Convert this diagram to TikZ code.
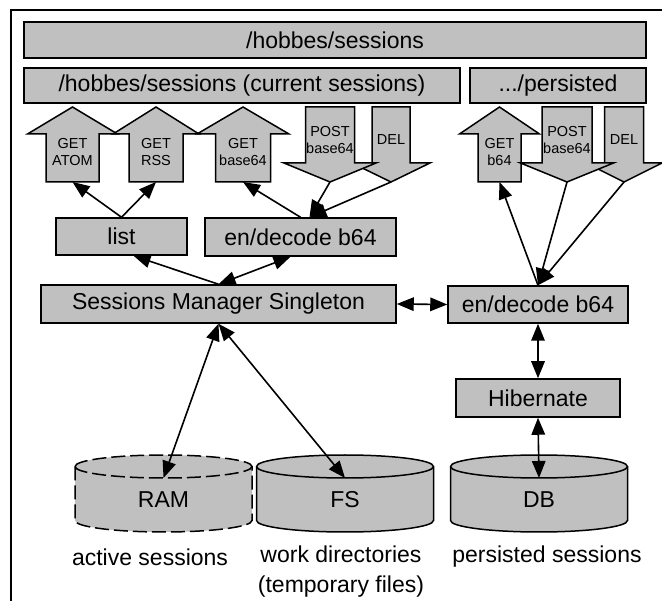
\documentclass[tikz,border=0pt]{standalone}
\usepackage{fontspec}
\setmainfont{Liberation Sans}
\usetikzlibrary{arrows.meta}
\definecolor{boxgray}{RGB}{192,192,192}

\begin{document}
\begin{tikzpicture}[x=1pt, y=-1pt,
  box/.style={draw, fill=boxgray, line width=1.5pt, inner sep=0pt, align=center, font=\fontsize{23}{27}\selectfont},
  blk/.style={draw, fill=boxgray, line width=1.5pt, line join=miter},
  blktext/.style={align=center, inner sep=0pt, font=\fontsize{14.5}{16.5}\selectfont},
  cyl/.style={draw, fill=boxgray, line width=1.5pt},
  ramline/.style={dash pattern=on 14pt off 5pt},
  lbl/.style={align=center, inner sep=0pt, font=\fontsize{23}{30}\selectfont},
  arr/.style={-{Triangle[length=17pt,width=13.5pt]}, line width=1.6pt},
  dbl/.style={{Triangle[length=17pt,width=13.5pt]}-{Triangle[length=17pt,width=13.5pt]}, line width=1.6pt},
]
\clip (0,0) rectangle (662,601);
\fill[white] (0,0) rectangle (662,601);
\draw[line width=2.5pt] (11,10) rectangle (700,640);

\node[box, minimum width=622pt, minimum height=36pt] (sessions) at (335,40) {/hobbes/sessions};
\node[box, minimum width=436pt, minimum height=35pt] (current) at (242,85.5) {/hobbes/sessions (current sessions)};
\node[box, minimum width=176pt, minimum height=35pt] (persisted) at (558,85.5) {.../persisted};

\foreach \n/\x/\s/\h/\lab in {getatom/72.5/26.5/45/{GET\\ATOM}, getrss/156/27/43/{GET\\RSS}, getbase/243/27.5/46/{GET\\base64}, getpb/499.5/21.5/40/{GET\\b64}}{
  \draw[blk] (\x-\s,182) -- (\x-\s,134) -- (\x-\h,134) -- (\x,107) -- (\x+\h,134) -- (\x+\s,134) -- (\x+\s,182) -- cycle;
  \node[blktext] (\n) at (\x,152) {\lab};
  \coordinate (\n-e) at (\x,182);
}
\foreach \n/\x/\s/\h/\lab in {del/391/19/39/DEL, post/330/24.5/46/{POST\\base64}, delp/624/19.5/38/DEL, postp/567/25/46.5/{POST\\base64}}{
  \draw[blk] (\x-\s,107) -- (\x+\s,107) -- (\x+\s,163) -- (\x+\h,163) -- (\x,182) -- (\x-\h,163) -- (\x-\s,163) -- cycle;
  \node[blktext] (\n) at (\x,140) {\lab};
  \coordinate (\n-e) at (\x,182);
}

\node[box, minimum width=131pt, minimum height=37pt] (list) at (121.5,236.5) {list};
\node[box, minimum width=191pt, minimum height=38pt] (endecl) at (300.5,237) {en/decode b64};
\node[box, minimum width=355pt, minimum height=38pt] (sms) at (218.5,304) {Sessions Manager Singleton};
\node[box, minimum width=180pt, minimum height=37pt] (endecr) at (538,304.5) {en/decode b64};
\node[box, minimum width=164pt, minimum height=38pt] (hib) at (538,398) {Hibernate};

\foreach \n/\x/\lab/\st in {ram/163.5/RAM/ramline, fs/345/FS/solid, db/539/DB/solid}{
  \path[cyl, \st] (\x-88.5,466.5) -- (\x-88.5,520.5) arc[start angle=180, end angle=0, x radius=88.5, y radius=11.5]
    -- (\x+88.5,466.5) arc[start angle=0, end angle=-180, x radius=88.5, y radius=11.5] -- cycle;
  \draw[line width=1.5pt, \st] (\x-88.5,466.5) arc[start angle=180, end angle=0, x radius=88.5, y radius=11.5];
  \node[lbl] (\n) at (\x,500) {\lab};
  \coordinate (\n-top) at (\x,478);
}

\node[lbl] (activelbl) at (150,557) {active sessions};
\node[lbl] (worklbl) at (341,572) {work directories\\(temporary files)};
\node[lbl] (persistlbl) at (547,557) {persisted sessions};

\draw[arr] (list.north) -- (getatom-e);
\draw[arr] (list.north) -- (getrss-e);
\draw[arr] (endecl.north) -- (getbase-e);
\draw[arr] (post-e) -- ([xshift=9pt]endecl.north);
\draw[arr] (del-e) -- ([xshift=9pt]endecl.north);
\draw[arr] (sms.north) -- ([xshift=12pt]list.south);
\draw[dbl] (sms.north) -- ([xshift=-10pt]endecl.south);
\draw[dbl] (sms.east) -- (endecr.west);
\draw[arr] (endecr.north) -- (getpb-e);
\draw[arr] (postp-e) -- (endecr.north);
\draw[arr] (delp-e) -- (endecr.north);
\draw[dbl] (endecr.south) -- (hib.north);
\draw[dbl] (hib.south) -- (db-top);
\draw[dbl] (sms.south) -- (ram-top);
\draw[dbl] (sms.south) -- (fs-top);
\end{tikzpicture}
\end{document}
